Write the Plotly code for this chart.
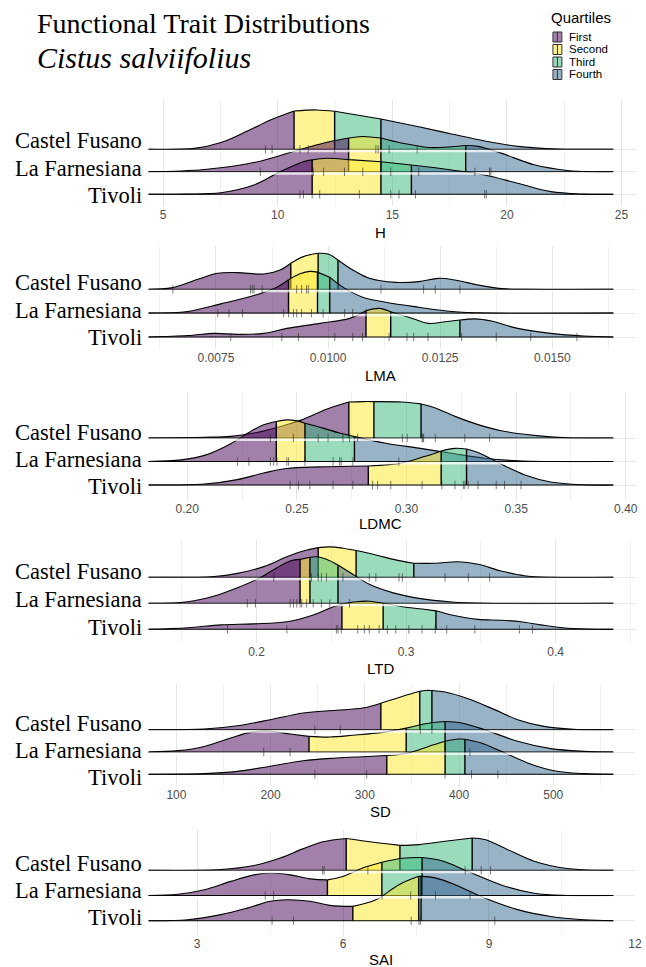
import plotly.graph_objects as go

W, H = 646, 967

SITES = ["Castel Fusano", "La Farnesiana", "Tivoli"]
SITE_LEVEL = [3, 2, 1]
QUARTILES = ["First", "Second", "Third", "Fourth"]
QUARTILE_FILL = ["rgba(68,1,84,0.5)", "rgba(253,231,37,0.5)",
                 "rgba(53,183,121,0.5)", "rgba(49,104,142,0.5)"]
TRAITS = ["H", "LMA", "LDMC", "LTD", "SD", "SAI"]
TICK_STEP = [5, 0.0025, 0.05, 0.1, 100, 3]
TICK_FORMAT = ["d", ".4f", ".2f", ".1f", "d", "d"]

# ---------------- H ----------------
H_CF_X = [4.35, 6.37, 7.52, 8.67, 9.68, 10.71, 11.69, 12.48, 14.50, 16.15, 17.59, 19.03, 20.47, 22.19, 23.5, 24.64]
H_CF_D = [0, 0.04, 0.30, 0.81, 1.30, 1.70, 1.75, 1.69, 1.35, 1.00, 0.68, 0.37, 0.13, 0.01, 0, 0]
H_CF_Q = [10.71, 12.48, 14.50]
H_CF_OBS = [9.46, 9.75, 10.97, 11.33, 12.48, 14.28, 14.38, 14.86, 16.08]

H_LF_X = [4.35, 6.80, 8.96, 10.68, 11.98, 13.09, 13.70, 14.50, 15.43, 16.58, 17.45, 18.20, 18.74, 19.75, 21.19, 22.63, 23.78, 24.64]
H_LF_D = [0, 0.10, 0.41, 0.90, 1.27, 1.50, 1.57, 1.50, 1.27, 1.08, 1.10, 1.17, 1.13, 0.83, 0.31, 0.06, 0, 0]
H_LF_Q = [13.09, 14.50, 18.20]
H_LF_OBS = [9.24, 11.55, 12.00, 12.91, 13.71, 14.93, 16.15, 18.60, 19.24, 19.30]

H_TI_X = [4.35, 6.00, 7.52, 8.96, 10.11, 11.12, 11.50, 12.12, 13.27, 14.50, 15.83, 17.59, 19.03, 20.47, 21.91, 23.35, 24.64]
H_TI_D = [0, 0.01, 0.07, 0.41, 1.01, 1.45, 1.53, 1.60, 1.53, 1.45, 1.30, 1.08, 0.86, 0.49, 0.12, 0.01, 0]
H_TI_Q = [11.50, 14.50, 15.83]
H_TI_OBS = [10.97, 11.12, 11.50, 11.83, 13.56, 14.93, 15.29, 16.01, 19.03, 19.10]

# ---------------- LMA ----------------
LMA_CF_X = [0.005993, 0.006507, 0.007096, 0.007537, 0.007978, 0.008566, 0.008934, 0.009169, 0.009449, 0.009779, 0.010000,
            0.010221, 0.010551, 0.010919, 0.011507, 0.012022, 0.012463, 0.012831, 0.013346, 0.013860, 0.014375, 0.016360]
LMA_CF_D = [0, 0.06, 0.42, 0.67, 0.70, 0.64, 0.81, 1.09, 1.37, 1.51, 1.48,
            1.23, 0.81, 0.46, 0.29, 0.32, 0.46, 0.39, 0.18, 0.03, 0, 0]
LMA_CF_Q = [0.009169, 0.009779, 0.010221]
LMA_CF_OBS = [0.00654, 0.00827, 0.00831, 0.00835, 0.00853, 0.00930, 0.00941, 0.00952, 0.00956, 0.01118, 0.01213, 0.01239, 0.01294]

LMA_LF_X = [0.005993, 0.006875, 0.007610, 0.008346, 0.008860, 0.009118, 0.009375, 0.009596, 0.009765, 0.010037, 0.010331,
            0.010772, 0.011287, 0.012022, 0.012757, 0.013493, 0.016360]
LMA_LF_D = [0, 0.07, 0.39, 0.74, 1.09, 1.40, 1.65, 1.75, 1.72, 1.51, 1.09,
            0.67, 0.46, 0.25, 0.07, 0, 0]
LMA_LF_Q = [0.009118, 0.009765, 0.010037]
LMA_LF_OBS = [0.00754, 0.00779, 0.00809, 0.00901, 0.00912, 0.00923, 0.00930, 0.00941, 0.00963, 0.00989, 0.01037, 0.01055, 0.01085]

LMA_TI_X = [0.005993, 0.006875, 0.007463, 0.007978, 0.008566, 0.009081, 0.009816, 0.010478, 0.010846, 0.011140, 0.011397,
            0.011801, 0.012243, 0.012610, 0.012941, 0.013272, 0.013640, 0.014228, 0.014963, 0.015699, 0.016360]
LMA_TI_D = [0, 0.06, 0.15, 0.11, 0.15, 0.36, 0.57, 0.78, 1.10, 1.20, 1.06,
            0.83, 0.57, 0.64, 0.71, 0.76, 0.67, 0.36, 0.15, 0.04, 0]
LMA_TI_Q = [0.010846, 0.011397, 0.012941]
LMA_TI_OBS = [0.00783, 0.00897, 0.00934, 0.01015, 0.01055, 0.01077, 0.01136, 0.01176, 0.01191, 0.01223, 0.01298, 0.01375, 0.01452, 0.01555]

# ---------------- LDMC ----------------
LDMC_CF_X = [0.18226, 0.20782, 0.21985, 0.23038, 0.24090, 0.25293, 0.26346, 0.27368, 0.28000, 0.28511, 0.29805,
             0.30662, 0.31312, 0.32211, 0.33263, 0.34316, 0.35820, 0.37323, 0.39429]
LDMC_CF_D = [0, 0.03, 0.07, 0.21, 0.45, 0.80, 1.22, 1.53, 1.55, 1.55, 1.53,
             1.45, 1.28, 0.92, 0.57, 0.31, 0.11, 0.01, 0]
LDMC_CF_Q = [0.27368, 0.28511, 0.30662]
LDMC_CF_OBS = [0.2379, 0.2484, 0.2597, 0.2642, 0.2710, 0.2740, 0.2777, 0.2981, 0.3003, 0.3071, 0.3074, 0.3078, 0.3131, 0.3266, 0.3379]

LDMC_LF_X = [0.18226, 0.19729, 0.20782, 0.21985, 0.22887, 0.23489, 0.24060, 0.24541, 0.24993, 0.25368, 0.26195,
             0.26947, 0.27624, 0.29053, 0.30556, 0.32060, 0.33564, 0.35068, 0.36571, 0.39429]
LDMC_LF_D = [0, 0.07, 0.26, 0.76, 1.28, 1.56, 1.70, 1.77, 1.73, 1.63, 1.42,
             1.21, 1.06, 0.78, 0.57, 0.35, 0.14, 0.03, 0, 0]
LDMC_LF_Q = [0.24060, 0.25368, 0.27624]
LDMC_LF_OBS = [0.2229, 0.2281, 0.2379, 0.2394, 0.2409, 0.2454, 0.2462, 0.2537, 0.2665, 0.2695, 0.2702, 0.2755, 0.2965]

LDMC_TI_X = [0.18226, 0.20782, 0.22286, 0.23489, 0.24541, 0.26045, 0.28256, 0.29805, 0.30857, 0.31579, 0.32211,
             0.32737, 0.33414, 0.34316, 0.35368, 0.36571, 0.38075, 0.39429]
LDMC_TI_D = [0, 0.04, 0.23, 0.51, 0.70, 0.77, 0.81, 0.94, 1.22, 1.45, 1.56,
             1.53, 1.32, 0.89, 0.44, 0.13, 0.01, 0]
LDMC_TI_Q = [0.28256, 0.31579, 0.32737]
LDMC_TI_OBS = [0.2469, 0.2507, 0.2559, 0.2665, 0.2755, 0.2845, 0.2868, 0.2928, 0.3071, 0.3161, 0.3221, 0.3259, 0.3266,
               0.3281, 0.3326, 0.3409, 0.3447, 0.3522]

# ---------------- LTD ----------------
LTD_CF_X = [0.12767, 0.17178, 0.18721, 0.20485, 0.22029, 0.23131, 0.24124, 0.24895, 0.25777, 0.26659, 0.27982,
            0.29306, 0.30518, 0.31952, 0.33495, 0.34818, 0.36362, 0.37905, 0.39670, 0.43859]
LTD_CF_D = [0, 0.03, 0.15, 0.41, 0.79, 1.01, 1.14, 1.17, 1.12, 1.03, 0.86,
            0.67, 0.54, 0.54, 0.60, 0.50, 0.24, 0.06, 0, 0]
LTD_CF_Q = [0.24124, 0.26659, 0.30518]
LTD_CF_OBS = [0.2115, 0.2368, 0.2412, 0.2434, 0.2468, 0.2578, 0.2754, 0.2798, 0.2953, 0.2975, 0.3261, 0.3416, 0.3559]

LTD_LF_X = [0.12767, 0.15413, 0.17178, 0.18721, 0.20265, 0.21367, 0.22249, 0.22911, 0.23572, 0.24013, 0.24675,
            0.25447, 0.26439, 0.27541, 0.29085, 0.30849, 0.33054, 0.35259, 0.43859]
LTD_LF_D = [0, 0.06, 0.28, 0.60, 0.99, 1.37, 1.63, 1.69, 1.77, 1.79, 1.69,
            1.47, 1.12, 0.73, 0.41, 0.19, 0.05, 0, 0]
LTD_LF_Q = [0.22911, 0.23572, 0.25447]
LTD_LF_OBS = [0.1938, 0.1993, 0.2225, 0.2247, 0.2269, 0.2291, 0.2302, 0.2335, 0.2379, 0.2434, 0.2490, 0.2622]

LTD_TI_X = [0.12767, 0.15413, 0.17618, 0.19824, 0.22029, 0.23793, 0.24895, 0.25711, 0.26659, 0.27541, 0.28468,
            0.29747, 0.31070, 0.32000, 0.33054, 0.34818, 0.36362, 0.37685, 0.39008, 0.40772, 0.42977, 0.43859]
LTD_TI_D = [0, 0.06, 0.17, 0.21, 0.29, 0.55, 0.81, 0.97, 1.06, 1.08, 1.00,
            0.87, 0.78, 0.71, 0.55, 0.38, 0.35, 0.29, 0.17, 0.04, 0, 0]
LTD_TI_Q = [0.25711, 0.28468, 0.32000]
LTD_TI_OBS = [0.1806, 0.2203, 0.2534, 0.2545, 0.2567, 0.2677, 0.2721, 0.2754, 0.2820, 0.2875, 0.2931, 0.3019, 0.3107,
              0.3195, 0.3272, 0.3460, 0.3758, 0.3846]

# ---------------- SD ----------------
SD_CF_X = [70.25, 129.7, 164.7, 199.7, 234.7, 269.7, 297.7, 317.0, 339.7, 358.3, 364.2, 371.2, 385.2, 409.7, 437.7,
           462.2, 490.2, 525.2, 563.7]
SD_CF_D = [0, 0.03, 0.18, 0.45, 0.75, 0.87, 0.97, 1.19, 1.49, 1.72, 1.76, 1.76, 1.69, 1.39, 0.90,
           0.45, 0.15, 0.01, 0]
SD_CF_Q = [317.0, 358.3, 371.2]
SD_CF_OBS = [247.0, 273.9, 359.0, 371.2]

SD_LF_X = [70.25, 101.7, 129.7, 157.7, 178.7, 199.7, 220.7, 240.7, 262.7, 287.2, 318.7, 343.9, 364.2, 385.2, 402.7,
           427.2, 462.2, 497.2, 532.2, 563.7]
SD_LF_D = [0, 0.06, 0.25, 0.63, 0.88, 0.93, 0.81, 0.70, 0.67, 0.75, 0.88, 1.07, 1.27, 1.37, 1.30,
           1.00, 0.48, 0.15, 0.03, 0]
SD_LF_Q = [240.7, 343.9, 385.2]
SD_LF_OBS = [192.7, 220.7, 385.2, 411.5]

SD_TI_X = [70.25, 129.7, 164.7, 199.7, 234.7, 269.7, 297.7, 323.3, 346.7, 367.7, 385.2, 399.2, 406.2, 423.7, 444.7,
           472.7, 500.7, 532.2, 563.7]
SD_TI_D = [0, 0.03, 0.13, 0.36, 0.61, 0.73, 0.79, 0.84, 0.96, 1.25, 1.48, 1.58, 1.57, 1.40, 1.03,
           0.51, 0.16, 0.03, 0]
SD_TI_Q = [323.3, 385.2, 406.2]
SD_TI_OBS = [247.0, 302.0, 385.2, 413.2, 441.2]

# ---------------- SAI ----------------
SAI_CF_X = [1.9966, 3.488, 4.166, 4.708, 5.183, 5.590, 6.064, 6.471, 7.169, 7.556, 8.098, 8.654, 8.912, 9.386,
            9.929, 10.607, 11.285, 11.556]
SAI_CF_D = [0, 0.03, 0.19, 0.49, 0.86, 1.13, 1.26, 1.15, 0.99, 1.02, 1.15, 1.28, 1.22, 0.82,
            0.36, 0.07, 0, 0]
SAI_CF_Q = [6.064, 7.169, 8.654]
SAI_CF_OBS = [5.58, 5.61, 6.51, 8.51, 8.84, 9.03]

SAI_LF_X = [1.9966, 2.607, 3.149, 3.692, 4.166, 4.505, 4.912, 5.319, 5.678, 5.997, 6.403, 6.797, 7.217, 7.624,
            8.031, 8.573, 9.251, 9.929, 10.607, 11.556]
SAI_LF_D = [0, 0.05, 0.23, 0.56, 0.82, 0.89, 0.82, 0.66, 0.62, 0.75, 1.09, 1.32, 1.48, 1.51,
            1.38, 0.95, 0.42, 0.09, 0, 0]
SAI_LF_Q = [5.678, 6.797, 7.624]
SAI_LF_OBS = [4.40, 4.57, 6.80, 7.39, 7.90, 8.61]

SAI_TI_X = [1.9966, 2.810, 3.488, 4.031, 4.505, 4.844, 5.319, 5.725, 6.200, 6.675, 7.149, 7.556, 7.603, 7.895,
            8.302, 8.912, 9.590, 10.268, 10.946, 11.556]
SAI_TI_D = [0, 0.04, 0.24, 0.50, 0.77, 0.83, 0.77, 0.61, 0.57, 0.83, 1.43, 1.76, 1.76, 1.70,
            1.43, 0.90, 0.44, 0.17, 0.04, 0]
SAI_TI_Q = [6.200, 7.556, 7.603]
SAI_TI_OBS = [4.54, 4.98, 7.40, 7.56, 7.59, 9.12]

RIDGES = [
    [(H_CF_X, H_CF_D, H_CF_Q, H_CF_OBS), (H_LF_X, H_LF_D, H_LF_Q, H_LF_OBS), (H_TI_X, H_TI_D, H_TI_Q, H_TI_OBS)],
    [(LMA_CF_X, LMA_CF_D, LMA_CF_Q, LMA_CF_OBS), (LMA_LF_X, LMA_LF_D, LMA_LF_Q, LMA_LF_OBS),
     (LMA_TI_X, LMA_TI_D, LMA_TI_Q, LMA_TI_OBS)],
    [(LDMC_CF_X, LDMC_CF_D, LDMC_CF_Q, LDMC_CF_OBS), (LDMC_LF_X, LDMC_LF_D, LDMC_LF_Q, LDMC_LF_OBS),
     (LDMC_TI_X, LDMC_TI_D, LDMC_TI_Q, LDMC_TI_OBS)],
    [(LTD_CF_X, LTD_CF_D, LTD_CF_Q, LTD_CF_OBS), (LTD_LF_X, LTD_LF_D, LTD_LF_Q, LTD_LF_OBS),
     (LTD_TI_X, LTD_TI_D, LTD_TI_Q, LTD_TI_OBS)],
    [(SD_CF_X, SD_CF_D, SD_CF_Q, SD_CF_OBS), (SD_LF_X, SD_LF_D, SD_LF_Q, SD_LF_OBS), (SD_TI_X, SD_TI_D, SD_TI_Q, SD_TI_OBS)],
    [(SAI_CF_X, SAI_CF_D, SAI_CF_Q, SAI_CF_OBS), (SAI_LF_X, SAI_LF_D, SAI_LF_Q, SAI_LF_OBS),
     (SAI_TI_X, SAI_TI_D, SAI_TI_Q, SAI_TI_OBS)],
]

# ---------------- layout geometry (pixels) ----------------
X_RANGE = [(4.3525, 25.59), (0.005993, 0.016846), (0.18226, 0.40422), (0.12767, 0.45315), (70.25, 586.8),
           (1.9966, 12.003)]
PANEL_TOP = [100, 246, 392, 540, 684, 830]
PANEL_BOT = [206, 349, 500, 643, 786, 935]
BASE_TOP = [149.3, 289.3, 438.0, 577.3, 729.7, 870.3]   # Castel Fusano baseline
BASE_BOT = [194.3, 337.0, 485.0, 629.3, 774.3, 920.7]   # Tivoli baseline
LABEL_Y = [(141, 168, 195), (283, 310, 337), (433, 460, 486), (571, 599, 627), (723, 750, 777), (863, 890, 917)]
XTITLE_Y = [232, 375, 523, 668, 811, 959]
X_LEFT, X_RIGHT = 150, 642

SERIF = "Liberation Serif"
SANS = "Liberation Sans"


def py(p):
    return 1 - p / H


def pxx(p):
    return p / W


fig = go.Figure()
annotations = []
shapes = []

for p, trait in enumerate(TRAITS):
    xa = "x" if p == 0 else f"x{p + 1}"
    ya = "y" if p == 0 else f"y{p + 1}"
    s = (BASE_BOT[p] - BASE_TOP[p]) / 2.0
    y_lo = 1 - (PANEL_BOT[p] - BASE_BOT[p]) / s
    y_hi = 3 + (BASE_TOP[p] - PANEL_TOP[p]) / s

    for r, (xs, ds, qs, obs) in enumerate(RIDGES[p]):
        base = SITE_LEVEL[r]
        bounds = [xs[0]] + list(qs) + [xs[-1]]
        for k in range(4):
            lo, hi = bounds[k], bounds[k + 1]
            idx = [i for i, x in enumerate(xs) if lo - 1e-9 <= x <= hi + 1e-9]
            sx = [xs[i] for i in idx]
            sy = [base + ds[i] for i in idx]
            fig.add_trace(go.Scatter(x=[lo, hi], y=[base, base], mode="lines", line=dict(width=0, color="rgba(0,0,0,0)"),
                                     hoverinfo="skip", showlegend=False, xaxis=xa, yaxis=ya))
            fig.add_trace(go.Scatter(x=sx, y=sy, mode="lines", fill="tonexty", fillcolor=QUARTILE_FILL[k],
                                     line=dict(color="black", width=1.1, shape="spline", smoothing=1),
                                     hoverinfo="skip", showlegend=False, xaxis=xa, yaxis=ya))
        # baseline
        fig.add_trace(go.Scatter(x=[xs[0], xs[-1]], y=[base, base], mode="lines", line=dict(color="black", width=1.1),
                                 hoverinfo="skip", showlegend=False, xaxis=xa, yaxis=ya))
        # quartile lines
        qx, qy = [], []
        for q in qs:
            i = min(range(len(xs)), key=lambda j: abs(xs[j] - q))
            qx += [q, q, None]
            qy += [base, base + ds[i], None]
        fig.add_trace(go.Scatter(x=qx, y=qy, mode="lines", line=dict(color="black", width=1.4),
                                 hoverinfo="skip", showlegend=False, xaxis=xa, yaxis=ya))

    # light strips just under the upper baselines
    strip = 3.0 / s
    for r in range(2):
        base = SITE_LEVEL[r]
        xs = RIDGES[p][r][0]
        fig.add_trace(go.Scatter(x=[xs[0], xs[-1], xs[-1], xs[0], xs[0]],
                                 y=[base - 0.02, base - 0.02, base - strip, base - strip, base - 0.02],
                                 mode="lines", fill="toself", fillcolor="rgba(255,255,255,0.75)",
                                 line=dict(width=0, color="rgba(0,0,0,0)"),
                                 hoverinfo="skip", showlegend=False, xaxis=xa, yaxis=ya))

    # rug ticks
    for r, (xs, ds, qs, obs) in enumerate(RIDGES[p]):
        base = SITE_LEVEL[r]
        fig.add_trace(go.Scatter(x=obs, y=[base] * len(obs), mode="markers",
                                 marker=dict(symbol="line-ns", size=6,
                                             line=dict(width=1, color="rgba(40,40,40,0.6)")),
                                 hoverinfo="skip", showlegend=False, xaxis=xa, yaxis=ya))

    step = TICK_STEP[p]
    fig.layout[("xaxis" if p == 0 else f"xaxis{p + 1}")] = dict(
        domain=[pxx(X_LEFT), pxx(X_RIGHT)], anchor=ya, range=list(X_RANGE[p]),
        tick0=0, dtick=step, tickformat=TICK_FORMAT[p],
        showgrid=True, gridcolor="#e6e6e6", gridwidth=1,
        minor=dict(dtick=step / 2, tick0=0, showgrid=True, gridcolor="#f2f2f2", gridwidth=0.6),
        zeroline=False, showline=False, ticks="",
        tickfont=dict(family=SANS, size=12, color="#4d4d4d"),
    )
    fig.layout[("yaxis" if p == 0 else f"yaxis{p + 1}")] = dict(
        domain=[py(PANEL_BOT[p]), py(PANEL_TOP[p])], anchor=xa, range=[y_lo, y_hi],
        tickvals=[1, 2, 3], showticklabels=False, showgrid=True, gridcolor="#e6e6e6",
        zeroline=False, showline=False, ticks="",
    )

    for r, site in enumerate(SITES):
        annotations.append(dict(text=site, x=pxx(146), y=py(LABEL_Y[p][r]), xref="paper", yref="paper",
                                xanchor="right", yanchor="middle", showarrow=False,
                                font=dict(family=SERIF, size=22.5, color="black")))
    annotations.append(dict(text=trait, x=pxx(385), y=py(XTITLE_Y[p]), xref="paper", yref="paper",
                            xanchor="center", yanchor="middle", showarrow=False,
                            font=dict(family=SANS, size=15, color="black")))

# titles
annotations.append(dict(text="Functional Trait Distributions", x=pxx(35), y=py(23), xref="paper", yref="paper",
                        xanchor="left", yanchor="middle", showarrow=False,
                        font=dict(family=SERIF, size=28, color="black")))
annotations.append(dict(text="<i>Cistus salviifolius</i>", x=pxx(35), y=py(58), xref="paper", yref="paper",
                        xanchor="left", yanchor="middle", showarrow=False,
                        font=dict(family=SERIF, size=30, color="black")))

# legend (drawn manually)
annotations.append(dict(text="Quartiles", x=pxx(556), y=py(17), xref="paper", yref="paper",
                        xanchor="left", yanchor="middle", showarrow=False, borderpad=0,
                        font=dict(family=SANS, size=15, color="black")))
LEG_Y = [37, 49.5, 62, 74.5]
for k, name in enumerate(QUARTILES):
    cy = LEG_Y[k]
    shapes.append(dict(type="rect", xref="paper", yref="paper", x0=pxx(559), x1=pxx(568),
                       y0=py(cy + 5), y1=py(cy - 5), fillcolor=QUARTILE_FILL[k],
                       line=dict(color="#333333", width=1)))
    shapes.append(dict(type="line", xref="paper", yref="paper", x0=pxx(563.5), x1=pxx(563.5),
                       y0=py(cy + 5), y1=py(cy - 5), line=dict(color="#333333", width=1)))
    annotations.append(dict(text=name, x=pxx(574), y=py(cy), xref="paper", yref="paper",
                            xanchor="left", yanchor="middle", showarrow=False, borderpad=0,
                            font=dict(family=SANS, size=11.5, color="black")))

fig.update_layout(width=W, height=H, margin=dict(l=0, r=0, t=0, b=0),
                  paper_bgcolor="white", plot_bgcolor="white", showlegend=False,
                  annotations=annotations, shapes=shapes)

fig.write_html("out.html")
